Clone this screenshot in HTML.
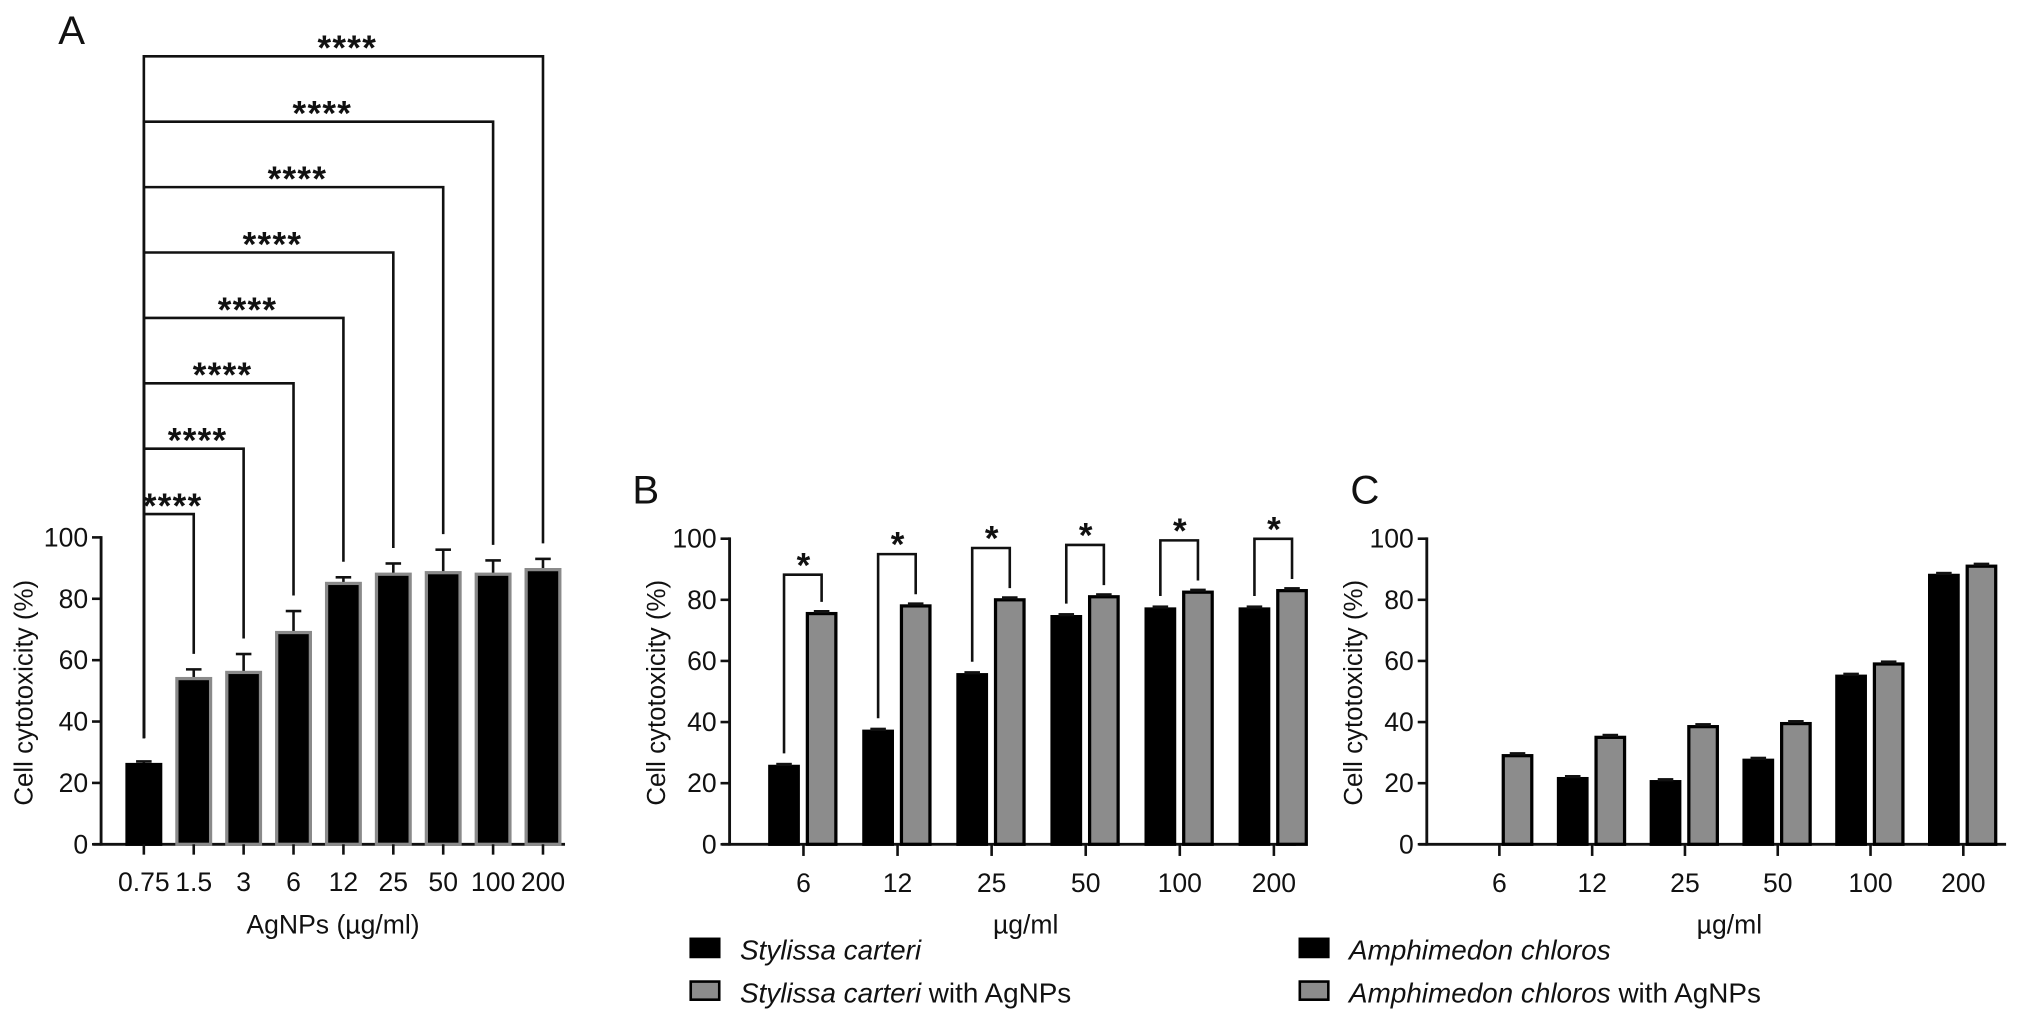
<!DOCTYPE html>
<html><head><meta charset="utf-8"><style>
html,body{margin:0;padding:0;background:#fff;}
svg{display:block;}
text{font-family:"Liberation Sans",sans-serif;fill:#111;}
</style></head><body>
<svg id="fig" width="2032" height="1023" viewBox="0 0 1568 790" preserveAspectRatio="none" xmlns="http://www.w3.org/2000/svg">
<rect width="1568" height="790" fill="#fff"/>
</svg>
<script>
// Panel A data
const catsA = ['0.75','1.5','3','6','12','25','50','100','200'];
const valsA = [26, 54, 56, 69, 85, 88, 88.5, 88, 89.5];
const errA = [1, 3, 6, 7, 2, 3.5, 7.5, 4.5, 3.5];
const sigA = ['****','****','****','****','****','****','****','****'];
// Panel B data
const catsB = ['6','12','25','50','100','200'];
const blackB = [25.5, 37, 55.5, 74.5, 77, 77];
const grayB = [75.5, 78, 80, 81, 82.5, 83];
const sigB = ['*','*','*','*','*','*'];
// Panel C data
const catsC = ['6','12','25','50','100','200'];
const blackC = [0, 21.5, 20.5, 27.5, 55, 88];
const grayC = [29, 35, 38.5, 39.5, 59, 91];
const yTicks = [0, 20, 40, 60, 80, 100];

const NS = 'http://www.w3.org/2000/svg';
const svg = document.getElementById('fig');
function el(tag, attrs, parent, txt) {
  const e = document.createElementNS(NS, tag);
  for (const k in attrs) e.setAttribute(k, attrs[k]);
  if (txt !== undefined) e.textContent = txt;
  (parent || svg).appendChild(e);
  return e;
}
function line(g, x1, y1, x2, y2, w) {
  return el('line', {x1, y1, x2, y2, stroke: '#111', 'stroke-width': w || 2}, g);
}

function axes(g, ax, y0, y100, xEnd) {
  const y = v => y0 - (y0 - y100) * v / 100;
  line(g, ax, y0 + 1, ax, y100 - 1, 2.2);
  line(g, ax - 6, y0, xEnd, y0, 2.2);
  yTicks.forEach(t => {
    const tk = line(g, ax - 7, y(t), ax, y(t), 2);
    
    
    const lb = el('text', {x: ax - 10, y: y(t) + 7, 'text-anchor': 'end', 'font-size': 20.5}, g, String(t));
    
    
  });
  return y;
}
function yTitle(g, x, cy) {
  const t = el('text', {x: 0, y: 0, 'text-anchor': 'middle', 'font-size': 20, transform: `translate(${x},${cy}) rotate(-90)`}, g, 'Cell cytotoxicity (%)');
  
  
}

// ---------- Panel A ----------
const gA = el('g', {});


const lA = el('text', {x: 45, y: 34, 'font-size': 31}, gA, 'A');


const yA = axes(gA, 78, 652, 415, 436);
const xA = i => 111 + i * 38.5;
catsA.forEach((c, i) => {
  const cx = xA(i), top = yA(valsA[i]);
  const etop = yA(valsA[i] + errA[i]);
  const e = line(gA, cx, top, cx, etop, 2);
  
  
  line(gA, cx - 6, etop, cx + 6, etop, 2);
  const b = el('rect', {x: cx - 13, y: top, width: 26, height: 652 - top, fill: '#000', stroke: i === 0 ? '#000' : '#8a8a8a', 'stroke-width': 2.5}, gA);
  
  
  line(gA, cx, 652, cx, 660, 2);
  const t = el('text', {x: cx, y: 688, 'text-anchor': 'middle', 'font-size': 20.5}, gA, c);
  
  
});
const xtA = el('text', {x: 257, y: 721, 'text-anchor': 'middle', 'font-size': 20.5}, gA, 'AgNPs (µg/ml)');


yTitle(gA, 25, 535);
// brackets
sigA.forEach((s, k) => {
  const i = k + 1;
  const bt = 397 - k * 50.5;
  const leftEnd = yA(valsA[0] + errA[0]) - 18;
  const rightEnd = yA(valsA[i] + errA[i]) - 12;
  const g = el('g', {}, gA);
  
  
  el('polyline', {points: `${xA(0)},${leftEnd} ${xA(0)},${bt} ${xA(i)},${bt} ${xA(i)},${rightEnd}`, fill: 'none', stroke: '#111', 'stroke-width': 2}, g);
  el('text', {x: (xA(0) + xA(i)) / 2 + 3, y: bt + 3, 'text-anchor': 'middle', 'font-size': 27, 'font-weight': 'bold', 'letter-spacing': 1}, g, s);
});

// ---------- grouped panels ----------
function grouped(name, letter, lx, ax, xEnd, ticks, cats, blk, gry, sig, lgX, lgNames) {
  const g = el('g', {});
  
  
  const L = el('text', {x: lx, y: 389, 'font-size': 31}, g, letter);
  
  
  const y = axes(g, ax, 652, 416, xEnd);
  yTitle(g, ax - 50, 535);
  const xc = i => ticks[0] + i * ticks[1];
  cats.forEach((c, i) => {
    const cx = xc(i);
    [[blk[i], -15, '#000', 'bar-black-'], [gry[i], 14, '#8c8c8c', 'bar-gray-']].forEach(([v, off, col, nm]) => {
      const top = y(v);
      const b = el('rect', {x: cx + off - 11, y: top, width: 22, height: 652 - top, fill: col, stroke: '#000', 'stroke-width': 2.5}, g);
      
      
      if (v > 0) line(g, cx + off - 6, top - 1.5, cx + off + 6, top - 1.5, 2.5);
    });
    line(g, cx, 652, cx, 661, 2);
    const t = el('text', {x: cx, y: 689, 'text-anchor': 'middle', 'font-size': 20.5}, g, c);
    
    
    if (sig) {
      const bt = y(Math.max(blk[i], gry[i])) - 30 - (i === 0 ? 0 : 10);
      const bg = el('g', {}, g);
      
      
      el('polyline', {points: `${cx - 15},${y(blk[i]) - 10} ${cx - 15},${bt} ${cx + 14},${bt} ${cx + 14},${y(gry[i]) - 9}`, fill: 'none', stroke: '#111', 'stroke-width': 2}, bg);
      el('text', {x: cx, y: bt + 2, 'text-anchor': 'middle', 'font-size': 27, 'font-weight': 'bold'}, bg, sig[i]);
    }
  });
  const xt = el('text', {x: (ax + xEnd) / 2 + 10, y: 721, 'text-anchor': 'middle', 'font-size': 20.5}, g, 'µg/ml');
  
  
  [['#000', 733, lgNames[0], ''], ['#8c8c8c', 766, lgNames[0], ' with AgNPs']].forEach(([col, ly, it, rest]) => {
    const le = el('g', {}, g);
    
    
    el('rect', {x: lgX, y: ly - 8, width: 22, height: 14, fill: col, stroke: '#000', 'stroke-width': 2}, le);
    const t = el('text', {x: lgX + 38, y: ly + 8, 'font-size': 21.5}, le);
    el('tspan', {'font-style': 'italic'}, t, it);
    if (rest) el('tspan', {}, t, rest);
  });
}
grouped('panel-b', 'B', 488, 563, 1000, [620, 72.6], catsB, blackB, grayB, sigB, 533, ['Stylissa carteri']);
grouped('panel-c', 'C', 1042, 1101, 1548, [1157, 71.6], catsC, blackC, grayC, null, 1003, ['Amphimedon chloros']);
</script>
</body></html>
